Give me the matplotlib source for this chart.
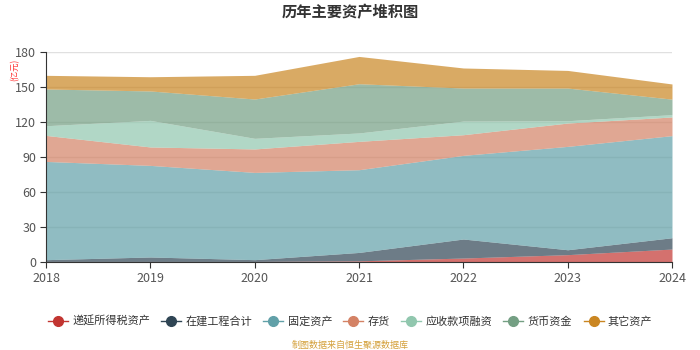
import numpy as np
import matplotlib.pyplot as plt
from matplotlib.lines import Line2D

plt.rcParams['font.family'] = ['Noto Sans CJK SC', 'DejaVu Sans']

# data (亿元)
years = ['2018', '2019', '2020', '2021', '2022', '2023', '2024']
deferred_tax = [0.5, 0.5, 0.5, 1.0, 3.4, 6.3, 11.1]
construction = [1.5, 3.8, 1.5, 7.2, 16.3, 4.2, 9.7]
fixed_assets = [84.2, 78.5, 74.8, 70.9, 71.7, 88.6, 87.5]
inventory = [22.3, 15.8, 20.1, 24.3, 17.7, 20.0, 16.0]
receivables_fin = [8.3, 22.8, 9.1, 7.2, 11.7, 2.0, 2.0]
cash = [31.5, 25.2, 33.7, 42.2, 28.3, 28.0, 13.3]
other_assets = [11.7, 12.2, 20.3, 23.4, 17.2, 15.1, 13.0]

series_names = ['递延所得税资产', '在建工程合计', '固定资产', '存货', '应收款项融资', '货币资金', '其它资产']
series = [deferred_tax, construction, fixed_assets, inventory, receivables_fin, cash, other_assets]
colors = ['#c23531', '#2f4554', '#61a0a8', '#d48265', '#91c7ae', '#749f83', '#ca8622']

fig = plt.figure(figsize=(7, 3.5), dpi=100)
ax = fig.add_axes([46 / 700, 88 / 350, 626 / 700, 210 / 350])

x = np.arange(len(years))
base = np.zeros(len(years))
for vals, c in zip(series, colors):
    top = base + np.array(vals)
    ax.fill_between(x, base, top, color=c, alpha=0.7, linewidth=0, zorder=2)
    base = top

ax.set_xlim(0, len(years) - 1)
ax.set_ylim(0, 180)
ax.set_yticks(range(0, 181, 30))
ax.set_xticks(x)
ax.set_xticklabels(years)
ax.grid(axis='y', color='#e0e0e0', linewidth=1, zorder=0)
ax.set_axisbelow(True)

for s in ['top', 'right']:
    ax.spines[s].set_visible(False)
ax.spines['left'].set_color('#333333')
ax.spines['bottom'].set_color('#333333')
ax.tick_params(axis='both', colors='#333333', labelcolor='#555555', labelsize=9, length=4)
ax.tick_params(axis='y', pad=3)

fig.text(0.5, 0.965, '历年主要资产堆积图', ha='center', va='center', fontsize=11, fontweight='bold', color='#333333')
fig.text(15 / 700, 1 - 70 / 350, '(亿元)', rotation=90, ha='center', va='center', fontsize=6, color='#ff3333')

handles = [Line2D([0], [0], color=c, marker='o', markersize=7, linewidth=1) for c in colors]
fig.legend(handles, series_names, loc='center', bbox_to_anchor=(0.5, 1 - 321 / 350), ncol=7, frameon=False,
           fontsize=8, handlelength=1.8, handletextpad=0.4, columnspacing=1.0, labelcolor='#333333')

fig.text(0.5, 1 - 345 / 350, '制图数据来自恒生聚源数据库', ha='center', va='center', fontsize=6.5, color='#d4a03a')

fig.savefig('out.png', dpi=100)
